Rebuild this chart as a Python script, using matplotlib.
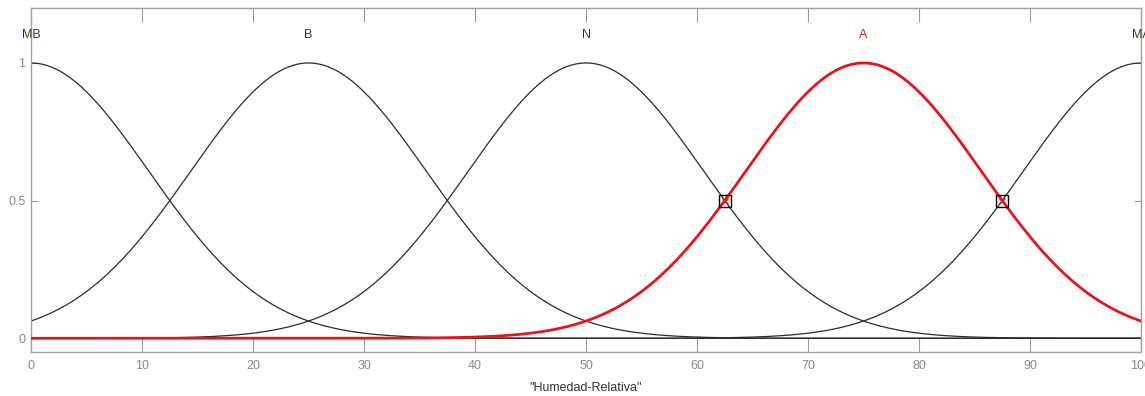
import numpy as np
import matplotlib.pyplot as plt

# membership functions (gaussmf)
mf_names = ['MB', 'B', 'N', 'A', 'MA']
mf_centers = [0, 25, 50, 75, 100]
mf_sigma = 10.62
selected = 'A'

# marked crossing points of the selected function
cross_x = [62.5, 87.5]
cross_y = [0.5, 0.5]

x_ticks = [0, 10, 20, 30, 40, 50, 60, 70, 80, 90, 100]
y_ticks = [0, 0.5, 1]
y_tick_labels = ['0', '0.5', '1']
x_label = '"Humedad-Relativa"'


def gaussmf(x, c, s):
    return np.exp(-(x - c) ** 2 / (2 * s ** 2))


def main():
    plt.rcParams['font.family'] = ['Liberation Sans', 'DejaVu Sans']
    fig = plt.figure(figsize=(11.45, 3.96), dpi=100)
    ax = fig.add_axes([0.0271, 0.111, 0.9694, 0.869])

    x = np.linspace(0, 100, 401)
    for name, c in zip(mf_names, mf_centers):
        if name == selected:
            continue
        ax.plot(x, gaussmf(x, c, mf_sigma), color='#2b2b2b', linewidth=0.9, zorder=2)
    c_sel = mf_centers[mf_names.index(selected)]
    ax.plot(x, gaussmf(x, c_sel, mf_sigma), color='#e8141a', linewidth=2.0, zorder=3)

    ax.plot(cross_x, cross_y, linestyle='none', marker='s', markersize=8,
            markerfacecolor='none', markeredgecolor='black', markeredgewidth=1.0, zorder=4)
    ax.plot(cross_x, cross_y, linestyle='none', marker='x', markersize=5,
            color='#e8141a', markeredgewidth=1.0, zorder=4)

    for name, c in zip(mf_names, mf_centers):
        col = '#e8141a' if name == selected else '#3a3a1a'
        ax.text(c, 1.08, name, ha='center', va='bottom', fontsize=9,
                color=col, clip_on=False)

    ax.set_xlim(0, 100)
    ax.set_ylim(-0.05, 1.2)
    ax.set_xticks(x_ticks)
    ax.set_yticks(y_ticks)
    ax.set_yticklabels(y_tick_labels)
    ax.tick_params(direction='in', length=10, width=0.8, colors='#9a9a9a',
                   labelsize=9, top=True, right=True, pad=6)
    ax.tick_params(axis='y', length=5, pad=4)
    for lab in ax.get_xticklabels() + ax.get_yticklabels():
        lab.set_color('#8a8a8a')
    for sp in ax.spines.values():
        sp.set_color('#a0a0a0')
        sp.set_linewidth(1.0)
    ax.set_xlabel(x_label, fontsize=9, color='#333333', labelpad=7)

    fig.savefig('out.png', dpi=100)


if __name__ == '__main__':
    main()
